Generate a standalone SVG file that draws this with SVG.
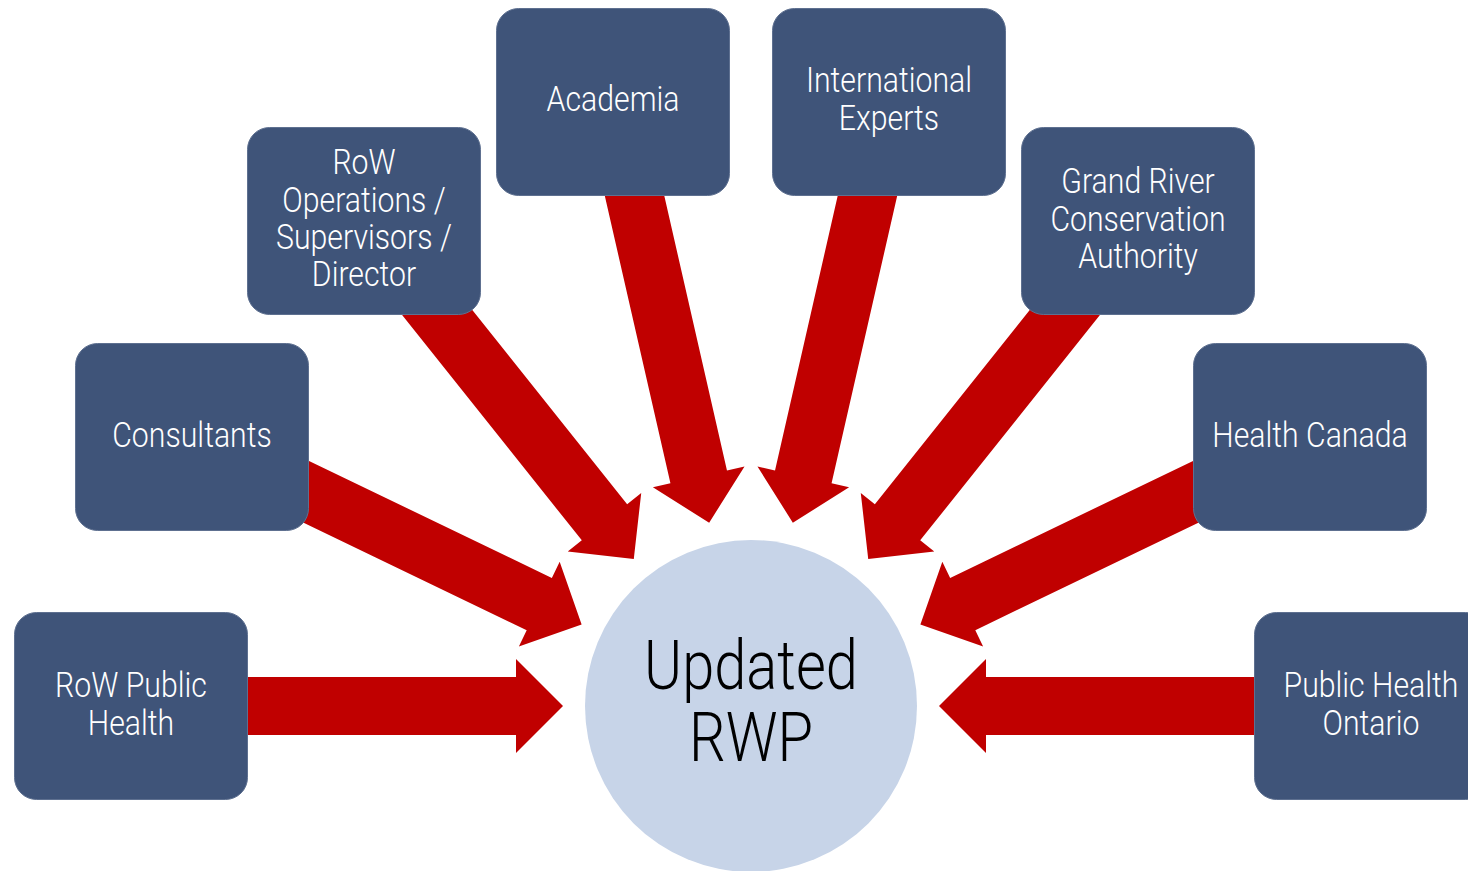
<svg xmlns="http://www.w3.org/2000/svg" xmlns:xlink="http://www.w3.org/1999/xlink" width="1468" height="871" viewBox="0 0 1468 871">
  <style>
    .box { fill: #3F5479; stroke: #5E7090; stroke-width: 1; }
    .lbl { font-family: Roboto, "Liberation Sans", sans-serif; font-weight: 300; font-size: 36px; fill: #FFFFFF; text-anchor: middle; }
    .hub { fill: #C7D4E8; }
    .hubtxt { font-family: Roboto, "Liberation Sans", sans-serif; font-weight: 300; font-size: 68px; fill: #000000; text-anchor: middle; }
    .arrow { fill: #C00000; }
  </style>
  <defs>
    <!-- block arrow along +x, tip 188px short of the hub centre -->
    <polygon id="arr" points="-620,-29 -235,-29 -235,-47 -188,0 -235,47 -235,29 -620,29"/>
  </defs>
  <rect width="1468" height="871" fill="#FFFFFF"/>

  <g id="connectors" class="arrow">
    <use xlink:href="#arr" transform="translate(751 706) rotate(0)"/>
    <use xlink:href="#arr" transform="translate(751 706) rotate(25.714)"/>
    <use xlink:href="#arr" transform="translate(751 706) rotate(51.429)"/>
    <use xlink:href="#arr" transform="translate(751 706) rotate(77.143)"/>
    <use xlink:href="#arr" transform="translate(751 706) rotate(102.857)"/>
    <use xlink:href="#arr" transform="translate(751 706) rotate(128.571)"/>
    <use xlink:href="#arr" transform="translate(751 706) rotate(154.286)"/>
    <use xlink:href="#arr" transform="translate(751 706) rotate(180)"/>
  </g>

  <g id="hub">
    <circle class="hub" cx="751" cy="706" r="166"/>
    <g transform="translate(751 0) scale(0.85 1)">
      <text class="hubtxt" x="0" y="689">Updated</text>
      <text class="hubtxt" x="0" y="761">RWP</text>
    </g>
  </g>

  <g id="row-public-health">
    <rect class="box" x="14.5" y="612.5" width="233" height="187" rx="22"/>
    <g transform="translate(131 706) scale(0.84 1)">
      <text class="lbl" x="0" y="-9">RoW Public</text>
      <text class="lbl" x="0" y="29">Health</text>
    </g>
  </g>

  <g id="consultants">
    <rect class="box" x="75.5" y="343.5" width="233" height="187" rx="22"/>
    <g transform="translate(192 437) scale(0.84 1)">
      <text class="lbl" x="0" y="10">Consultants</text>
    </g>
  </g>

  <g id="row-operations">
    <rect class="box" x="247.5" y="127.5" width="233" height="187" rx="22"/>
    <g transform="translate(364 221) scale(0.84 1)">
      <text class="lbl" x="0" y="-47">RoW</text>
      <text class="lbl" x="0" y="-9">Operations /</text>
      <text class="lbl" x="0" y="28">Supervisors /</text>
      <text class="lbl" x="0" y="65">Director</text>
    </g>
  </g>

  <g id="academia">
    <rect class="box" x="496.5" y="8.5" width="233" height="187" rx="22"/>
    <g transform="translate(613 101) scale(0.84 1)">
      <text class="lbl" x="0" y="10">Academia</text>
    </g>
  </g>

  <g id="international-experts">
    <rect class="box" x="772.5" y="8.5" width="233" height="187" rx="22"/>
    <g transform="translate(889 101) scale(0.84 1)">
      <text class="lbl" x="0" y="-9">International</text>
      <text class="lbl" x="0" y="29">Experts</text>
    </g>
  </g>

  <g id="grand-river">
    <rect class="box" x="1021.5" y="127.5" width="233" height="187" rx="22"/>
    <g transform="translate(1138 221) scale(0.84 1)">
      <text class="lbl" x="0" y="-28">Grand River</text>
      <text class="lbl" x="0" y="10">Conservation</text>
      <text class="lbl" x="0" y="47">Authority</text>
    </g>
  </g>

  <g id="health-canada">
    <rect class="box" x="1193.5" y="343.5" width="233" height="187" rx="22"/>
    <g transform="translate(1310 437) scale(0.84 1)">
      <text class="lbl" x="0" y="10">Health Canada</text>
    </g>
  </g>

  <g id="public-health-ontario">
    <rect class="box" x="1254.5" y="612.5" width="233" height="187" rx="22"/>
    <g transform="translate(1371 706) scale(0.84 1)">
      <text class="lbl" x="0" y="-9">Public Health</text>
      <text class="lbl" x="0" y="29">Ontario</text>
    </g>
  </g>
</svg>
